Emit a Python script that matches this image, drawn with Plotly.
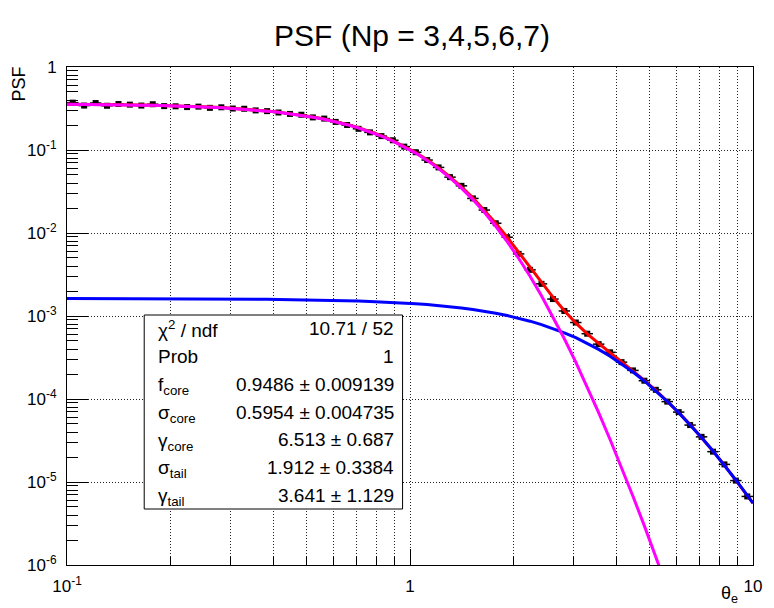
import plotly.graph_objects as go

# ---------------- data ----------------
theta = [0.1039, 0.1122, 0.1212, 0.1308, 0.1413, 0.1525, 0.1647, 0.1778, 0.1920, 0.2073,
         0.2239, 0.2417, 0.2610, 0.2818, 0.3043, 0.3286, 0.3548, 0.3831, 0.4137, 0.4467,
         0.4823, 0.5208, 0.5623, 0.6072, 0.6556, 0.7079, 0.7644, 0.8254, 0.8913, 0.9624,
         1.0391, 1.1220, 1.2115, 1.3082, 1.4125, 1.5252, 1.6469, 1.7783, 1.9201, 2.0733,
         2.2387, 2.4173, 2.6102, 2.8184, 3.0432, 3.2860, 3.5481, 3.8312, 4.1368, 4.4668,
         4.8232, 5.2080, 5.6234, 6.0720, 6.5564, 7.0795, 7.6442, 8.2540, 8.9125, 9.6235]

psf = [0.372, 0.343, 0.368, 0.341, 0.358, 0.352, 0.343, 0.356, 0.338, 0.336,
       0.329, 0.333, 0.322, 0.327, 0.316, 0.314, 0.300, 0.294, 0.283, 0.272,
       0.266, 0.247, 0.239, 0.218, 0.200, 0.180, 0.163, 0.147, 0.131, 0.1098,
       0.0940, 0.0757, 0.0617, 0.0471, 0.0370, 0.0261, 0.0189, 0.0131, 0.0089, 0.0056,
       0.00360, 0.00244, 0.00160, 0.00115, 0.000835, 0.000612, 0.000458, 0.000365, 0.000278, 0.000221,
       0.000166, 0.000129, 0.0000930, 0.0000695, 0.0000485, 0.0000350, 0.0000232, 0.0000163, 0.0000104, 0.0000067]

# fitted curves sampled at 0.1, the bin centres and 10
fit_total = [0.3569,
             0.3567, 0.3558, 0.3548, 0.3536, 0.3522, 0.3506, 0.3487, 0.3465, 0.3440, 0.3411,
             0.3377, 0.3338, 0.3294, 0.3243, 0.3184, 0.3117, 0.3042, 0.2956, 0.2860, 0.2752,
             0.2633, 0.2501, 0.2358, 0.2201, 0.2034, 0.1857, 0.1674, 0.1487, 0.1297, 0.1110,
             0.09318, 0.07636, 0.06106, 0.04756, 0.03601, 0.02648, 0.01892, 0.01314, 0.008894, 0.005903,
             0.003873, 0.002541, 0.001692, 0.001160, 0.0008254, 0.0006102, 0.0004649, 0.0003606, 0.0002813, 0.0002185,
             0.0001680, 0.0001271, 0.00009438, 0.00006875, 0.00004912, 0.00003441, 0.00002365, 0.00001595, 0.00001058, 0.000006911,
             0.000005554]

fit_core = [0.3553,
            0.3551, 0.3542, 0.3532, 0.3520, 0.3506, 0.3490, 0.3471, 0.3449, 0.3424, 0.3395,
            0.3361, 0.3322, 0.3278, 0.3227, 0.3168, 0.3101, 0.3026, 0.2940, 0.2844, 0.2736,
            0.2617, 0.2485, 0.2342, 0.2186, 0.2019, 0.1842, 0.1659, 0.1472, 0.1282, 0.1096,
            0.09178, 0.07499, 0.05972, 0.04627, 0.03476, 0.02528, 0.01778, 0.01206, 0.007882, 0.004962,
            0.003007, 0.001753, 0.0009842, 0.0005325, 0.0002780, 0.0001403, 0.00006859, 0.00003252, 0.00001500, 0.000006738,
            0.000002958, 0.000001271, 0.000000536, 0.000000222]

fit_tail = [0.0016209,
            0.0016207, 0.0016203, 0.0016198, 0.0016193, 0.0016187, 0.0016179, 0.0016171, 0.0016161, 0.0016149, 0.0016136,
            0.0016120, 0.0016102, 0.0016081, 0.0016056, 0.0016027, 0.0015994, 0.0015955, 0.0015909, 0.0015857, 0.0015796,
            0.0015725, 0.0015643, 0.0015548, 0.0015438, 0.0015312, 0.0015165, 0.0014997, 0.0014804, 0.0014583, 0.0014331,
            0.0014044, 0.0013718, 0.0013350, 0.0012937, 0.0012475, 0.0011964, 0.0011401, 0.0010786, 0.0010121, 0.00094114,
            0.00086617, 0.00078806, 0.00070798, 0.00062723, 0.00054738, 0.00046986, 0.00039630, 0.00032807, 0.00026628, 0.00021179,
            0.00016496, 0.00012575, 0.00009384, 0.00006853, 0.00004903, 0.00003437, 0.00002364, 0.00001595, 0.00001058, 0.000006911,
            0.000005554]

stat_labels = ["χ<sup>2</sup> / ndf", "Prob", "f<sub>core</sub>", "σ<sub>core</sub>",
               "γ<sub>core</sub>", "σ<sub>tail</sub>", "γ<sub>tail</sub>"]
stat_values = ["10.71 / 52", "1", "0.9486 ± 0.009139", "0.5954 ± 0.004735",
               "6.513 ± 0.687", "1.912 ± 0.3384", "3.641 ± 1.129"]

x_tick_vals = [0.1, 1, 10]
x_tick_text = ["10<sup>-1</sup>", "1", "10"]
y_tick_vals = [1e-6, 1e-5, 1e-4, 1e-3, 1e-2, 1e-1, 1]
y_tick_text = ["10<sup>-6</sup>", "10<sup>-5</sup>", "10<sup>-4</sup>", "10<sup>-3</sup>",
               "10<sup>-2</sup>", "10<sup>-1</sup>", "1"]

title_text = "PSF (Np = 3,4,5,6,7)"
x_title = "θ<sub>e</sub>"
y_title = "PSF"

# ---------------- geometry ----------------
W, H = 774, 608
L, R, T, B = 67, 760, 67, 565
FONT = "Liberation Sans, Arial, Helvetica, sans-serif"
GRID_DASH = "1px,2px"


def px(xp):
    return (xp - L) / (R - L)


def py(yp):
    return (B - yp) / (B - T)


fit_theta = [0.1] + theta + [10.0]
bin_ratio = 10 ** (1 / 60)
err_plus = [t * bin_ratio - t for t in theta]
err_minus = [t - t / bin_ratio for t in theta]

fig = go.Figure()

fig.add_trace(go.Scatter(
    x=theta, y=psf, mode="markers",
    marker=dict(symbol="square", size=6, color="black"),
    error_x=dict(type="data", symmetric=False, array=err_plus, arrayminus=err_minus,
                 color="black", thickness=1.5, width=0),
    error_y=dict(type="percent", value=5, color="black", thickness=1.5, width=0),
    showlegend=False))

fig.add_trace(go.Scatter(x=fit_theta, y=fit_total, mode="lines",
                         line=dict(color="#ff0000", width=3), showlegend=False))
fig.add_trace(go.Scatter(x=fit_theta, y=fit_tail, mode="lines",
                         line=dict(color="#0000ff", width=3), showlegend=False))
fig.add_trace(go.Scatter(x=fit_theta[:len(fit_core)], y=fit_core, mode="lines",
                         line=dict(color="#ff00ff", width=3), showlegend=False))

x_minor = [m * d for d in (0.1, 1) for m in range(2, 10)]
y_minor = [m * d for d in (1e-6, 1e-5, 1e-4, 1e-3, 1e-2, 1e-1) for m in range(2, 10)]

fig.update_xaxes(
    type="log", range=[-1, 1],
    tickmode="array", tickvals=x_tick_vals, ticktext=x_tick_text,
    ticks="inside", ticklen=16, tickwidth=1, tickcolor="black",
    showgrid=True, gridcolor="#222222", griddash=GRID_DASH, gridwidth=1,
    minor=dict(tickmode="array", tickvals=x_minor, ticks="inside", ticklen=8,
               tickcolor="black", showgrid=True, gridcolor="#222222", griddash=GRID_DASH, gridwidth=1),
    showline=True, linecolor="black", linewidth=1, mirror=True, zeroline=False,
    tickfont=dict(family=FONT, size=17, color="black"), ticklabelstandoff=6)

fig.update_yaxes(
    type="log", range=[-6, 0],
    tickmode="array", tickvals=y_tick_vals, ticktext=y_tick_text,
    ticks="inside", ticklen=21, tickwidth=1, tickcolor="black",
    showgrid=True, gridcolor="#222222", griddash=GRID_DASH, gridwidth=1,
    minor=dict(tickmode="array", tickvals=y_minor, ticks="inside", ticklen=11,
               tickcolor="black", showgrid=False),
    showline=True, linecolor="black", linewidth=1, mirror=True, zeroline=False,
    tickfont=dict(family=FONT, size=17, color="black"), ticklabelstandoff=6)

# stats box
box_top, box_bottom = 315, 509
fig.add_shape(type="rect", xref="paper", yref="paper",
              x0=px(145), x1=px(406), y0=py(box_bottom), y1=py(box_top),
              fillcolor="white", line=dict(color="black", width=1), layer="above")

n_rows = len(stat_labels)
row_h = (box_bottom - box_top) / n_rows
annotations = []
for k, (lab, val) in enumerate(zip(stat_labels, stat_values)):
    yy = box_top + row_h * (k + 0.5)
    lab_y = yy + (2 if "<sub>" in lab else 0)
    annotations.append(dict(xref="paper", yref="paper", x=px(157), y=py(lab_y),
                            text=lab, showarrow=False, xanchor="left", yanchor="middle",
                            font=dict(family=FONT, size=19, color="black")))
    annotations.append(dict(xref="paper", yref="paper", x=px(399), y=py(yy),
                            text=val, showarrow=False, xanchor="right", yanchor="middle",
                            font=dict(family=FONT, size=19, color="black")))

annotations.append(dict(xref="paper", yref="paper", x=px(19), y=py(84), text=y_title,
                        textangle=-90, showarrow=False, xanchor="center", yanchor="middle",
                        font=dict(family=FONT, size=18, color="black")))
annotations.append(dict(xref="paper", yref="paper", x=px(747), y=py(594), text=x_title,
                        showarrow=False, xanchor="right", yanchor="middle",
                        font=dict(family=FONT, size=18, color="black")))

fig.update_layout(
    width=W, height=H,
    margin=dict(l=L, r=W - R, t=T, b=H - B, pad=0),
    paper_bgcolor="white", plot_bgcolor="white",
    title=dict(text=title_text, xref="container", yref="container",
               x=412 / W, y=1 - 35 / H, xanchor="center", yanchor="middle",
               font=dict(family=FONT, size=30, color="black")),
    annotations=annotations,
    showlegend=False,
)

fig.write_html("out.html")
